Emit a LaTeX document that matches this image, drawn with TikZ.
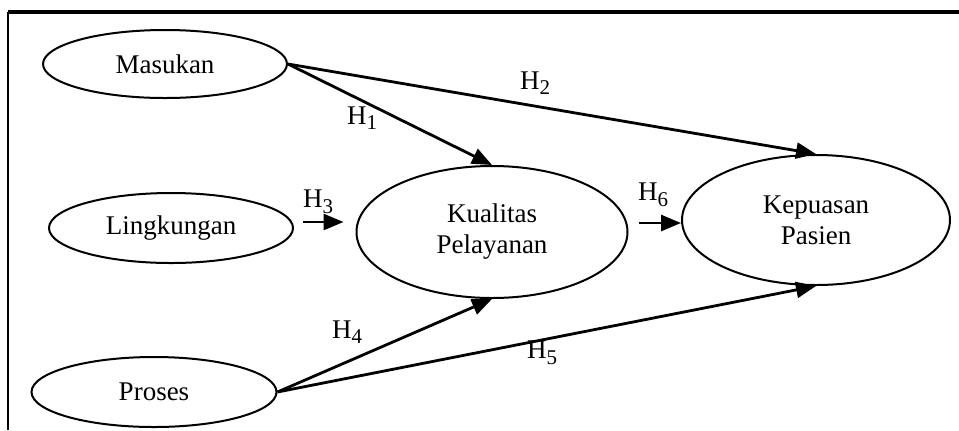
\documentclass[tikz,border=0pt]{standalone}
\usepackage{fontspec}
\setmainfont{Liberation Serif}
\usetikzlibrary{arrows.meta,shapes.geometric}

\newcommand{\hsub}[1]{H\raisebox{-0.45ex}{\fontsize{10.5}{10.5}\selectfont #1}}

\begin{document}
\begin{tikzpicture}[x=0.5pt,y=-0.5pt,
    var/.style={draw, ellipse, line width=1pt, inner sep=0pt, align=center,
                font=\fontsize{13.5}{15.5}\selectfont},
    arr/.style={-{Triangle[length=10pt,width=8pt]}, line width=1.4pt},
    hyp/.style={font=\fontsize{13.5}{15.5}\selectfont}]
  \useasboundingbox (0,0) rectangle (959,430);
  % frame
  \draw[line width=1pt] (8,430) -- (8,12);
  \draw[line width=1.6pt] (8,12) -- (959,12);
  % variables
  \node[var, minimum width=122pt, minimum height=34pt] (mas) at (165,64) {Masukan};
  \node[var, minimum width=122pt, minimum height=35pt] (ling) at (171,228) {Lingkungan};
  \node[var, minimum width=122.5pt, minimum height=35pt] (pro) at (154,392) {Proses};
  \node[var, minimum width=135.5pt, minimum height=66pt] (kual) at (492,232) {Kualitas\\Pelayanan};
  \node[var, minimum width=134pt, minimum height=65pt] (kep) at (816,220) {Kepuasan\\Pasien};
  % hypotheses
  \draw[arr] (mas.east) -- (kual.north);
  \draw[arr] (mas.east) -- (kep.north);
  \draw[arr] ([xshift=4.5pt,yshift=3pt]ling.east) -- ([xshift=-6pt,yshift=5pt]kual.west);
  \draw[arr] (pro.east) -- (kual.south);
  \draw[arr] (pro.east) -- (kep.south);
  \draw[arr] ([xshift=5pt,yshift=4.5pt]kual.east) -- ([yshift=-1.5pt]kep.west);
  \node[hyp] (h1) at (362,118) {\hsub{1}};
  \node[hyp] (h2) at (535,83) {\hsub{2}};
  \node[hyp] (h3) at (318,202) {\hsub{3}};
  \node[hyp] (h4) at (347,332) {\hsub{4}};
  \node[hyp] (h5) at (542,353) {\hsub{5}};
  \node[hyp] (h6) at (653,195) {\hsub{6}};
\end{tikzpicture}
\end{document}
